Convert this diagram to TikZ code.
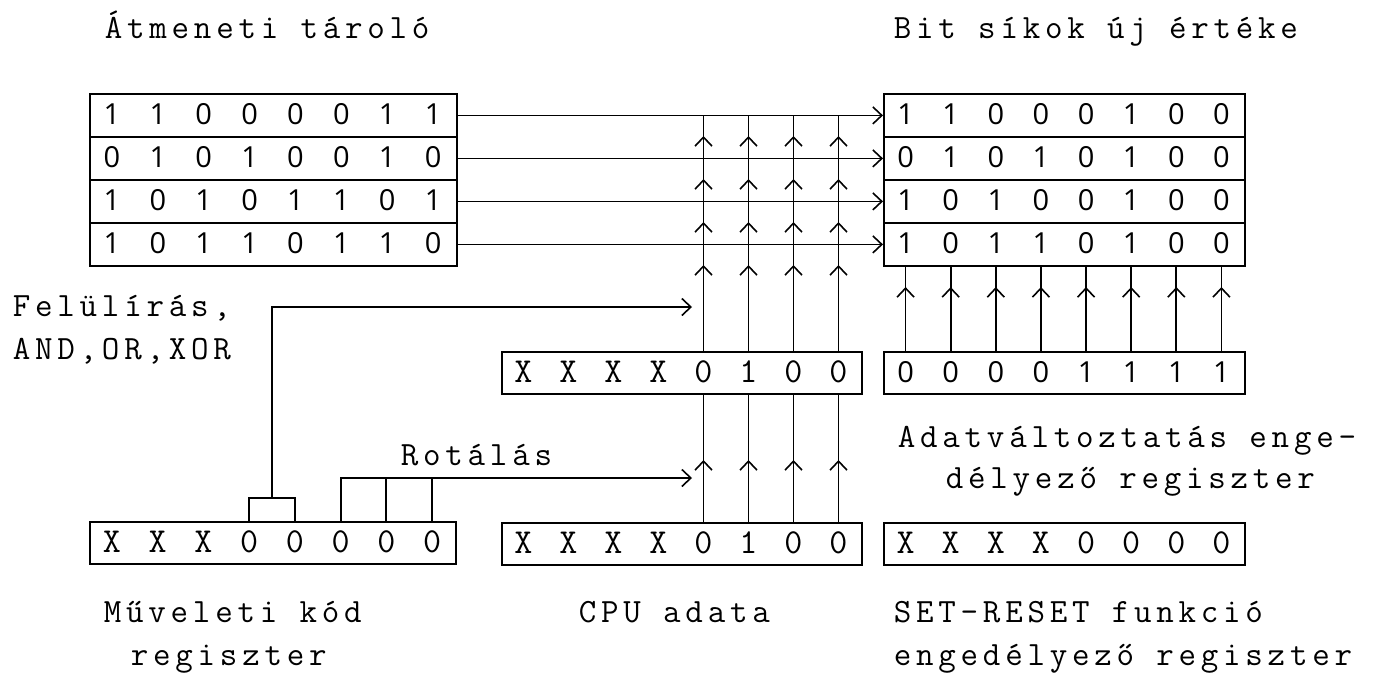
\documentclass[tikz,border=0pt]{standalone}
\usepackage{fontspec}
\setmainfont{Latin Modern Mono}
\newfontfamily\lblfam[LetterSpace=14]{Latin Modern Mono}
\newfontfamily\monofam{Latin Modern Mono}
\newfontfamily\digfam{Open Sans}
\usetikzlibrary{arrows.meta,decorations.markings}
\begin{document}
\begin{tikzpicture}[x=1pt,y=-1pt,line width=1.8pt,
  reg/.style={draw,inner sep=0pt,anchor=north west,minimum height=43pt},
  dig/.style={inner sep=0pt,font=\digfam\fontsize{29}{30}\selectfont},
  mdig/.style={inner sep=0pt,font=\monofam\fontsize{35}{36}\selectfont},
  lbl/.style={anchor=base west,inner sep=0pt,font=\lblfam\fontsize{34}{38}\selectfont},
  arr/.style={-{Straight Barb[length=9pt,width=17pt,line width=1.6pt]}},
  tipat/.style={postaction={decorate,decoration={markings,
     mark=at position #1 with {\arrow{Straight Barb[length=9pt,width=17pt,line width=1.6pt]}}}}}
]
\useasboundingbox (0,0) rectangle (1386,683);

% --- top left register (Atmeneti tarolo)
\foreach \bits [count=\i] in {{1,1,0,0,0,0,1,1},{0,1,0,1,0,0,1,0},{1,0,1,0,1,1,0,1},{1,0,1,1,0,1,1,0}}{
  \node[reg,minimum width=367pt] (L\i) at (89,{93+43*(\i-1)}) {};
  \foreach \d [count=\k] in \bits
    \node[dig] (L\i-\k) at ({89+367/8*(\k-0.5)},{93+43*(\i-0.5)}) {\d};
}
% --- top right register (Bit sikok uj erteke)
\foreach \bits [count=\i] in {{1,1,0,0,0,1,0,0},{0,1,0,1,0,1,0,0},{1,0,1,0,0,1,0,0},{1,0,1,1,0,1,0,0}}{
  \node[reg,minimum width=361pt] (R\i) at (883,{93+43*(\i-1)}) {};
  \foreach \d [count=\k] in \bits
    \node[dig] (R\i-\k) at ({883+361/8*(\k-0.5)},{93+43*(\i-0.5)}) {\d};
}
% --- enable register
\node[reg,minimum width=361pt,minimum height=42pt] (E) at (883,351) {};
\foreach \d [count=\k] in {0,0,0,0,1,1,1,1}
  \node[dig] (E-\k) at ({883+361/8*(\k-0.5)},372) {\d};
% --- CPU data registers
\node[reg,minimum width=360pt,minimum height=42pt] (C1) at (501,351) {};
\foreach \d [count=\k] in {X,X,X,X,0,1,0,0}
  \node[mdig] (C1-\k) at ({501+45*(\k-0.5)},372) {\d};
\node[reg,minimum width=360pt,minimum height=42pt] (C2) at (501,522) {};
\foreach \d [count=\k] in {X,X,X,X,0,1,0,0}
  \node[mdig] (C2-\k) at ({501+45*(\k-0.5)},543) {\d};
% --- operation code register
\node[reg,minimum width=366pt,minimum height=42pt] (B) at (89,521) {};
\foreach \d [count=\k] in {X,X,X,0,0,0,0,0}
  \node[mdig] (B-\k) at ({89+366/8*(\k-0.5)},542) {\d};
% --- set-reset register
\node[reg,minimum width=361pt,minimum height=42pt] (S) at (883,522) {};
\foreach \d [count=\k] in {X,X,X,X,0,0,0,0}
  \node[mdig] (S-\k) at ({883+361/8*(\k-0.5)},543) {\d};

% --- horizontal arrows
\foreach \i in {1,2,3,4}
  \draw[arr] (L\i.east) -- (R\i.west);

% --- upper vertical buses (CPU data -> bit planes)
\foreach \k in {5,6,7,8}{
  \draw[tipat=86pt,tipat=129pt,tipat=172pt,tipat=215pt]
    (C1-\k |- C1.north) -- (C1-\k |- L1.east);
  \draw[tipat=62pt] (C2-\k |- C2.north) -- (C1-\k |- C1.south);
}
% --- enable register verticals
\foreach \k in {1,...,8}
  \draw[tipat=64pt] (E-\k |- E.north) -- (R4-\k |- R4.south);

% --- Feluliras bracket
\coordinate (fb) at ({89+366/8*4},498);
\coordinate (fe) at (692,307);
\draw (B-4 |- B.north) |- (fb) -| (B-5 |- B.north);
\draw[arr] (fb) |- (fe);
% --- Rotalas bracket
\coordinate (re) at (692,478);
\draw[arr] (B-6 |- B.north) |- (re);
\draw (B-7 |- B.north) -- (B-7 |- re);
\draw (B-8 |- B.north) -- (B-8 |- re);

% --- labels
\node[lbl] (t1) at (104,38) {Átmeneti tároló};
\node[lbl] (t2) at (893,38) {Bit síkok új értéke};
\node[lbl] (t3) at (12,316) {Felülírás,};
\node[lbl] (t4) at (12,359) {AND,OR,XOR};
\node[lbl] (t5) at (400,465) {Rotálás};
\node[lbl] (t6) at (897,447) {Adatváltoztatás enge-};
\node[lbl] (t7) at (945,488) {délyező regiszter};
\node[lbl] (t8) at (103,622) {Műveleti kód};
\node[lbl] (t9) at (130,665) {regiszter};
\node[lbl] (t10) at (578,622) {CPU adata};
\node[lbl] (t11) at (893,622) {SET-RESET funkció};
\node[lbl] (t12) at (893,665) {engedélyező regiszter};
\end{tikzpicture}
\end{document}
